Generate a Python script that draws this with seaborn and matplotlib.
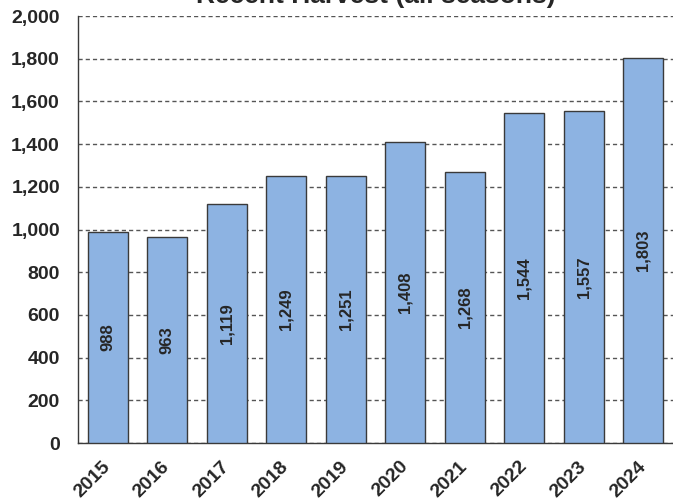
import matplotlib
matplotlib.use("Agg")
import matplotlib.pyplot as plt
import numpy as np
import pandas as pd
import seaborn as sns

years = ["2015", "2016", "2017", "2018", "2019", "2020", "2021", "2022", "2023", "2024"]
harvest = [988, 963, 1119, 1249, 1251, 1408, 1268, 1544, 1557, 1803]
y_ticks = [0, 200, 400, 600, 800, 1000, 1200, 1400, 1600, 1800, 2000]

df = pd.DataFrame({"year": years, "harvest": harvest})

sns.set_style("white")
plt.rcParams["font.family"] = ["Liberation Sans", "DejaVu Sans"]
plt.rcParams["font.weight"] = "bold"

fig = plt.figure(figsize=(6.73, 5.0), dpi=100)
ax = fig.add_axes([78 / 673, 57 / 500, 595 / 673, 427 / 500])

sns.barplot(data=df, x="year", y="harvest", color="#8DB3E2", saturation=1,
            width=0.67, edgecolor="#3a3a3a", linewidth=1.0, ax=ax, zorder=3)

ax.set_xlim(-0.5, len(years) - 0.5)
ax.set_ylim(0, 2000)
ax.set_yticks(y_ticks)
ax.set_yticklabels([f"{v:,}" for v in y_ticks], fontsize=14, fontweight="bold")

ax.yaxis.grid(True, color="#555555", linestyle=(0, (3, 2.2)), linewidth=1.0, zorder=0)
ax.xaxis.grid(False)

# year labels under the bars, tick marks between bars
ax.set_xticks(np.arange(len(years)))
ax.set_xticklabels(years, rotation=45, ha="right", va="center",
                   rotation_mode="anchor", fontsize=14, fontweight="bold")
ax.set_xticks(np.arange(len(years)) - 0.5, minor=True)
ax.tick_params(axis="x", which="major", length=0, pad=15)
ax.tick_params(axis="x", which="minor", length=5, width=1, color="#3a3a3a", direction="out")
ax.tick_params(axis="y", length=5, width=1, color="#3a3a3a", direction="out", pad=8)

for side in ["top", "right"]:
    ax.spines[side].set_visible(False)
for side in ["left", "bottom"]:
    ax.spines[side].set_color("#3a3a3a")
    ax.spines[side].set_linewidth(1.0)

ax.set_xlabel("")
ax.set_ylabel("")

ax.bar_label(ax.containers[0], labels=[f"{v:,}" for v in harvest], label_type="center",
             rotation=90, fontsize=12, fontweight="bold")

fig.text((78 + 673) / 2 / 673, 0.993, "Recent Harvest (all seasons)", ha="center",
         va="baseline", fontsize=19, fontweight="bold")

fig.savefig("out.png", dpi=100)
